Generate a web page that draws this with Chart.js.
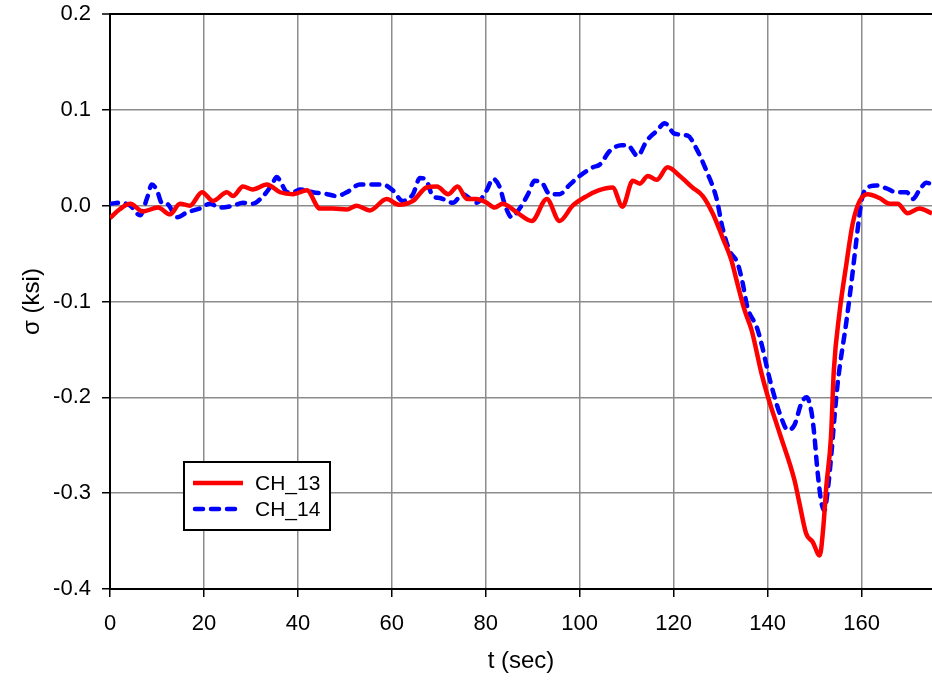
<!DOCTYPE html>
<html>
<head>
<meta charset="utf-8">
<script src="https://cdn.jsdelivr.net/npm/chart.js@4/dist/chart.umd.min.js"></script>
<style>
  html, body { margin: 0; padding: 0; background: #ffffff; }
  #wrap { width: 932px; height: 682px; }
</style>
</head>
<body>
<div id="wrap"><canvas id="c" width="932" height="682"></canvas></div>
<script>
// ---- data ----
const ch13T = [0, 2, 4.3, 7, 10.2, 12.8, 14.9, 17, 19.6, 21.9, 24.9, 26.2, 28.3, 30.4, 33.4, 36.2, 39, 41.9, 44.7, 47.4, 50.4, 52.5, 55.3, 58.9, 61.5, 64.5, 67.4, 69.6, 72, 74, 76, 78, 80.2, 81.9, 83.6, 86.6, 89.8, 93, 95.7, 98.5, 101.5, 104, 107, 109.1, 111.3, 112.8, 114.5, 116.4, 118.7, 121.3, 124, 126.2, 128.3, 130.4, 132.3, 133.4, 135.1, 136.6, 138.7, 140.1, 142.6, 145.7, 146.8, 148.2, 149.6, 151.1, 151.8, 152.5, 153.5, 154.1, 155.3, 156.8, 158.1, 159.6, 161.3, 163.8, 166, 167.7, 169.8, 172.3, 175];
const ch13V = [-0.013, -0.004, 0.002, -0.006, -0.002, -0.009, 0.002, 0.000, 0.014, 0.005, 0.014, 0.010, 0.020, 0.017, 0.022, 0.014, 0.012, 0.016, -0.003, -0.003, -0.004, 0.000, -0.005, 0.007, 0.001, 0.005, 0.019, 0.020, 0.012, 0.020, 0.007, 0.007, 0.003, -0.002, 0.002, -0.007, -0.016, 0.007, -0.016, 0.000, 0.010, 0.016, 0.019, -0.001, 0.026, 0.023, 0.031, 0.027, 0.040, 0.031, 0.019, 0.010, -0.008, -0.033, -0.057, -0.078, -0.109, -0.130, -0.175, -0.200, -0.238, -0.286, -0.311, -0.342, -0.351, -0.365, -0.339, -0.293, -0.241, -0.172, -0.112, -0.060, -0.019, 0.005, 0.012, 0.008, 0.002, 0.002, -0.008, -0.003, -0.008];

const ch14T = [0, 2.1, 4.3, 6.4, 7.9, 8.9, 10, 11, 12.1, 14.3, 16.4, 19.1, 21.3, 23.4, 26.2, 28.3, 30.4, 32.6, 34.5, 35.5, 36.6, 37.7, 39, 40.4, 43.2, 46.2, 48.3, 50.4, 53.2, 56, 58.1, 60.2, 62.3, 64.5, 66, 67.4, 68.7, 70.2, 73, 75.1, 78, 80.2, 81.5, 83, 84, 85.5, 87.2, 89, 90.4, 92.1, 93.6, 95.7, 97.9, 100, 102.8, 104.3, 106.4, 108.9, 110.2, 112.3, 114.3, 116.4, 118.1, 120.2, 123, 124.9, 127, 129.1, 130.4, 131.9, 133.6, 134.7, 135.7, 137.7, 138.9, 140, 141.1, 142.6, 144.3, 145.7, 147.2, 148.3, 149.4, 150, 150.6, 151.5, 152.1, 152.8, 153.6, 154.3, 155, 156.8, 157.9, 158.9, 160, 161.3, 163.2, 165.3, 167.4, 169.6, 170.9, 172.3, 173.8, 175];
const ch14V = [0.002, 0.003, 0.000, -0.010, 0.008, 0.022, 0.016, 0.003, 0.002, -0.012, -0.007, -0.003, 0.002, -0.002, 0.000, 0.003, 0.002, 0.010, 0.022, 0.030, 0.022, 0.014, 0.014, 0.017, 0.014, 0.012, 0.010, 0.014, 0.022, 0.022, 0.022, 0.016, 0.005, 0.012, 0.029, 0.026, 0.010, 0.008, 0.003, 0.012, 0.003, 0.016, 0.028, 0.019, 0.002, -0.012, -0.003, 0.012, 0.026, 0.023, 0.012, 0.012, 0.022, 0.031, 0.040, 0.043, 0.057, 0.063, 0.063, 0.052, 0.068, 0.078, 0.086, 0.075, 0.073, 0.059, 0.036, 0.008, -0.023, -0.047, -0.060, -0.081, -0.106, -0.127, -0.148, -0.172, -0.193, -0.217, -0.234, -0.229, -0.206, -0.200, -0.217, -0.242, -0.276, -0.311, -0.318, -0.297, -0.258, -0.217, -0.182, -0.120, -0.078, -0.036, 0.005, 0.019, 0.021, 0.018, 0.014, 0.014, 0.007, 0.016, 0.024, 0.022];

const seriesNames = ['CH_13', 'CH_14'];
const xTicks = [0, 20, 40, 60, 80, 100, 120, 140, 160];
const yTicks = [-0.4, -0.3, -0.2, -0.1, 0.0, 0.1, 0.2];
const xTitle = 't (sec)';
const yTitle = 'σ (ksi)';

// ---- chart ----
const FONT = "'Liberation Sans', Arial, sans-serif";
const toPts = (xs, ys) => xs.map((x, i) => ({ x: x, y: ys[i] }));

const legendPlugin = {
  id: 'boxLegend',
  afterDatasetsDraw(chart) {
    const ctx = chart.ctx;
    const bx = 184, by = 462, bw = 146, bh = 68;
    ctx.save();
    ctx.fillStyle = '#ffffff';
    ctx.fillRect(bx, by, bw, bh);
    ctx.lineWidth = 2;
    ctx.strokeStyle = '#000000';
    ctx.strokeRect(bx, by, bw, bh);
    const rows = [by + 21, by + 47];
    chart.data.datasets.forEach((ds, i) => {
      ctx.beginPath();
      ctx.strokeStyle = ds.borderColor;
      ctx.lineWidth = ds.borderWidth;
      ctx.lineCap = ds.borderCapStyle || 'butt';
      ctx.setLineDash(ds.borderDash || []);
      ctx.moveTo(i === 0 ? 193 : 195, rows[i]);
      ctx.lineTo(i === 0 ? 243 : 236, rows[i]);
      ctx.stroke();
      ctx.setLineDash([]);
      ctx.fillStyle = '#000000';
      ctx.font = '21px ' + FONT;
      ctx.textBaseline = 'middle';
      ctx.textAlign = 'left';
      ctx.fillText(ds.label, 255, rows[i] + 1);
    });
    ctx.restore();
  }
};

new Chart(document.getElementById('c'), {
  type: 'line',
  data: {
    datasets: [
      {
        label: seriesNames[0],
        data: toPts(ch13T, ch13V),
        borderColor: '#ff0000',
        borderWidth: 4.5,
        pointRadius: 0,
        cubicInterpolationMode: 'monotone',
        fill: false
      },
      {
        label: seriesNames[1],
        data: toPts(ch14T, ch14V),
        borderColor: '#0000ff',
        borderWidth: 4.5,
        borderDash: [8, 8],
        borderCapStyle: 'round',
        pointRadius: 0,
        cubicInterpolationMode: 'monotone',
        fill: false
      }
    ]
  },
  options: {
    responsive: false,
    animation: false,
    devicePixelRatio: 1,
    layout: { padding: { top: 14, right: 0, bottom: 0, left: 0 } },
    plugins: { legend: { display: false }, tooltip: { enabled: false } },
    scales: {
      x: {
        type: 'linear',
        min: 0,
        max: 175,
        afterBuildTicks: (s) => { s.ticks = xTicks.map(v => ({ value: v })); },
        afterFit: (s) => { s.height = 93; s.paddingLeft = 0; s.paddingRight = 0; },
        ticks: {
          font: { family: FONT, size: 22 },
          color: '#000000',
          padding: 14,
          maxRotation: 0,
          autoSkip: false,
          callback: (v) => String(v)
        },
        grid: {
          color: '#8c8c8c',
          lineWidth: 1.5,
          tickColor: '#000000',
          tickLength: 8,
          tickWidth: 1.5
        },
        border: { color: '#000000', width: 2 },
        title: {
          display: true,
          text: xTitle,
          font: { family: FONT, size: 24 },
          color: '#000000',
          padding: { top: 0, bottom: 6 }
        }
      },
      y: {
        type: 'linear',
        min: -0.4,
        max: 0.2,
        afterBuildTicks: (s) => { s.ticks = yTicks.map(v => ({ value: v })); },
        afterFit: (s) => { s.width = 110; s.paddingTop = 0; s.paddingBottom = 0; },
        ticks: {
          font: { family: FONT, size: 22 },
          color: '#000000',
          padding: 11,
          callback: (v) => Number(v).toFixed(1)
        },
        grid: {
          color: (c) => (c.tick && Math.abs(c.tick.value - 0.2) < 1e-9) ? '#000000' : '#8c8c8c',
          lineWidth: (c) => (c.tick && Math.abs(c.tick.value - 0.2) < 1e-9) ? 2 : 1.5,
          tickColor: '#000000',
          tickLength: 8,
          tickWidth: 1.5
        },
        border: { color: '#000000', width: 2 },
        title: {
          display: true,
          text: yTitle,
          font: { family: FONT, size: 24 },
          color: '#000000',
          padding: { top: 18, bottom: 0 }
        }
      }
    }
  },
  plugins: [legendPlugin]
});
</script>
</body>
</html>
